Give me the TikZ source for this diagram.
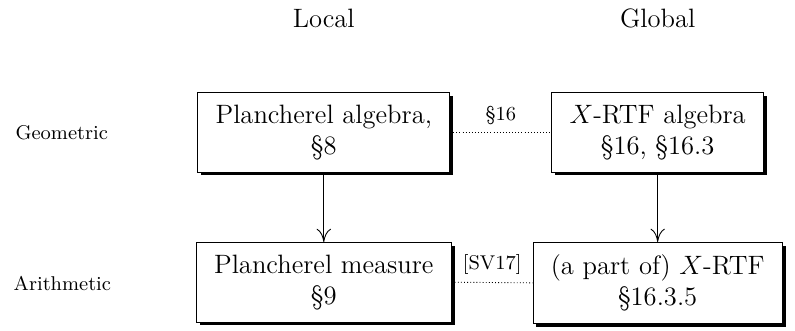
\documentclass[tikz,border=0pt]{standalone}
\usepackage{amsmath}
\usepackage{amssymb}
\usepackage{tikz}
\usetikzlibrary{shadows,arrows.meta}
\tikzset{
    box/.style={
        draw, fill=white, align=center, font=\large,
        inner xsep=8pt, inner ysep=5.5pt,
        drop shadow={shadow xshift=1.5pt, shadow yshift=-1.5pt, fill=black, opacity=1}
    },
    head/.style={font=\large},
    side/.style={font=\small},
    link/.style={densely dotted},
    cite/.style={font=\small, above},
    down/.style={-{To[length=6pt,width=6.5pt]}}
}

\begin{document}
\begin{tikzpicture}
		\useasboundingbox (0,0) rectangle (12.62,-5.254);

		% Column and row titles
		\node[head] (local) at (5.14,-0.29) {Local};
		\node[head] (global) at (10.44,-0.29) {Global};
		\node[side] (geom) at (0.98,-2.11) {Geometric};
		\node[side] (arith) at (0.99,-4.50) {Arithmetic};

		% Local side
		\node[box] (palg) at (5.14,-2.10) {Plancherel algebra,\\ \S8};
		\node[box] (pmeas) at (5.14,-4.48) {Plancherel measure\\ \S9};

		% Global side
		\node[box] (ralg) at (10.44,-2.10) {$X$-RTF algebra\\ \S16, \S16.3};
		\node[box] (rtf) at (10.44,-4.49) {(a part of) $X$-RTF\\ \S16.3.5};

		% Connections
		\draw[down] (palg) -- (pmeas);
		\draw[down] (ralg) -- (rtf);
		\draw[link] (palg.east) -- node[cite] {\S16} (ralg.west);
		\draw[link] (pmeas.east) -- node[cite] {[SV17]} (rtf.west);

	\end{tikzpicture}
\end{document}
